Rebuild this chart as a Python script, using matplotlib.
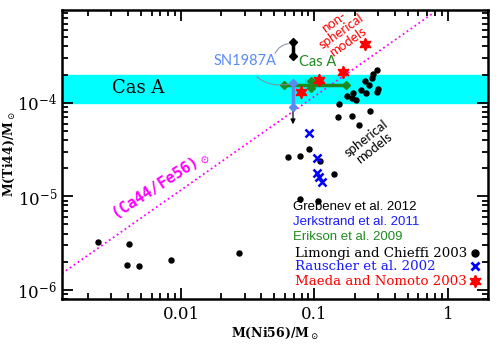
import matplotlib
matplotlib.use("Agg")
import matplotlib.pyplot as plt
from matplotlib.ticker import FixedLocator, FixedFormatter, LogLocator, NullFormatter

plt.rcParams['mathtext.fontset'] = 'dejavuserif'

# Limongi and Chieffi 2003 (spherical models)
lc_ni = [0.0024, 0.0041, 0.0039, 0.0048, 0.0084, 0.0273, 0.063, 0.078, 0.091, 0.11,
         0.14, 0.078, 0.106, 0.151, 0.19, 0.217, 0.26, 0.152, 0.176, 0.192, 0.205,
         0.195, 0.222, 0.242, 0.239, 0.256, 0.268, 0.276, 0.292, 0.30, 0.292]
lc_ti = [3.26e-6, 3.1e-6, 1.85e-6, 1.78e-6, 2.11e-6, 2.47e-6, 2.61e-5, 2.7e-5, 3.2e-5, 2.4e-5,
         1.73e-5, 9.3e-6, 9.0e-6, 6.98e-5, 7.2e-5, 5.78e-5, 8.1e-5, 9.7e-5, 1.19e-4, 1.13e-4, 1.07e-4,
         1.26e-4, 1.37e-4, 1.28e-4, 1.72e-4, 1.55e-4, 1.82e-4, 2.02e-4, 2.23e-4, 1.39e-4, 1.3e-4]

# Rauscher et al. 2002
ra_ni = [0.091, 0.104, 0.104, 0.109, 0.113]
ra_ti = [4.8e-5, 2.55e-5, 1.77e-5, 1.62e-5, 1.43e-5]

# Maeda and Nomoto 2003 (non-spherical models)
mn_ni = [0.239, 0.163, 0.109, 0.079]
mn_ti = [4.3e-4, 2.14e-4, 1.75e-4, 1.31e-4]

# SN1987A: Grebenev 2012 and Jerkstrand 2011
sn87_ni = 0.069
greb_ti = [3.15e-4, 4.48e-4]
jerk_ti = [9.06e-5, 1.61e-4]
jerk_limit = 5.5e-5

# Cas A: Erikson 2009
casa_ni = [0.059, 0.094, 0.172]
casa_ti = [1.55e-4, 1.43e-4, 1.7e-4]

# Cas A band and solar ratio
band = [1e-4, 2e-4]
solar_ratio = 1.17e-3

fig = plt.figure(figsize=(4.98, 3.46), dpi=100)
ax = fig.add_axes([0.1245, 0.136, 0.8555, 0.835])
ax.set_xscale('log')
ax.set_yscale('log')
ax.set_xlim(1.28e-3, 2.0)
ax.set_ylim(8.0e-7, 9.8e-4)

ax.axhspan(band[0], band[1], color='#00ffff', zorder=0)
xl = [1.28e-3, 2.0]
ax.plot(xl, [v * solar_ratio for v in xl], ':', color='#ff00ff', lw=1.3, zorder=1)

# Erikson (green)
green = '#1f8a1f'
ax.plot([casa_ni[0], casa_ni[2]], [casa_ti[0], casa_ti[0]], '-', color=green, lw=2.5, zorder=3)
ax.plot([casa_ni[0], casa_ni[2]], [casa_ti[0], casa_ti[0]], 'D', color=green, ms=4.5, zorder=3)
ax.plot([casa_ni[1], casa_ni[1]], [casa_ti[1], casa_ti[2]], '-D', color=green, lw=2.5, ms=4.5, zorder=3)

# Maeda & Nomoto stars
ax.plot(mn_ni, mn_ti, ls='none', marker=(6, 1, 0), color='red', ms=9, zorder=4)

# Jerkstrand (blue bar) + upper arrow
sncol = '#5a8cf0'
ax.annotate('', xy=(sn87_ni, jerk_limit), xytext=(sn87_ni, jerk_ti[0]),
            arrowprops=dict(arrowstyle='-|>', color='black', lw=0.9, mutation_scale=7), zorder=2)
ax.plot([sn87_ni, sn87_ni], jerk_ti, '-D', color=sncol, lw=2.5, ms=4.5, zorder=5)

# Grebenev (black bar)
ax.plot([sn87_ni, sn87_ni], greb_ti, '-D', color='black', lw=2.5, ms=4.5, zorder=5)

# model points
ax.plot(lc_ni, lc_ti, 'o', color='black', ms=3.6, zorder=4)
ax.plot(ra_ni, ra_ti, 'x', color='#0000ff', ms=6, mew=1.8, zorder=4)

# annotations
ax.annotate('SN1987A', xy=(sn87_ni, 1.61e-4), xycoords='data',
            xytext=(0.43, 0.824), textcoords='axes fraction', ha='center', va='center',
            fontsize=10.5, color=sncol, family='Lato',
            arrowprops=dict(arrowstyle='-', color='#7f8c9c', lw=0.7,
                            connectionstyle='arc3,rad=0.4', shrinkA=6, shrinkB=2))
ax.annotate('', xy=(sn87_ni * 0.97, 4.3e-4), xycoords='data',
            xytext=(0.5, 0.85), textcoords='axes fraction',
            arrowprops=dict(arrowstyle='-', color='#7f8c9c', lw=0.7,
                            connectionstyle='arc3,rad=-0.3', shrinkA=0, shrinkB=2))
ax.annotate('Cas A', xy=(0.086, 1.5e-4), xycoords='data',
            xytext=(0.601, 0.82), textcoords='axes fraction', ha='center', va='center',
            fontsize=10.5, color=green, family='Lato',
            arrowprops=dict(arrowstyle='-', color='#7f9c7f', lw=0.7,
                            connectionstyle='arc3,rad=0.3', shrinkA=6, shrinkB=2))

ax.text(0.178, 0.730, 'Cas A', transform=ax.transAxes, ha='center', va='center',
        fontsize=13, family='DejaVu Serif', color='black')
ax.text(0.655, 0.925, 'non-\nspherical\nmodels', transform=ax.transAxes, ha='center',
        va='center', rotation=35, fontsize=9.5, color='red', family='Lato',
        linespacing=1.0, multialignment='center')
ax.text(0.723, 0.54, 'spherical\nmodels', transform=ax.transAxes, ha='center',
        va='center', rotation=38, fontsize=9.5, color='black', family='Lato',
        linespacing=1.0, multialignment='center')
ax.text(0.230, 0.391, r'(Ca44/Fe56)$_\odot$', transform=ax.transAxes, ha='center',
        va='center', rotation=33, fontsize=11, color='#ff00ff', family='DejaVu Sans Mono',
        fontweight='bold')

# legend as text
leg_x = 0.542
sans = [('Grebenev et al. 2012', 'black', 0.318),
        ('Jerkstrand et al. 2011', '#1a1aff', 0.266),
        ('Erikson et al. 2009', green, 0.215)]
for s, c, y in sans:
    ax.text(leg_x, y, s, transform=ax.transAxes, ha='left', va='center', fontsize=9.5,
            color=c, family='Liberation Sans')
serif = [('Limongi and Chieffi 2003', 'black', 0.159),
         ('Rauscher et al. 2002', '#1a1aff', 0.114),
         ('Maeda and Nomoto 2003', 'red', 0.062)]
for s, c, y in serif:
    ax.text(leg_x + 0.005, y, s, transform=ax.transAxes, ha='left', va='center', fontsize=9.6,
            color=c, family='DejaVu Serif')
ax.plot([0.969], [0.159], 'o', color='black', ms=5, transform=ax.transAxes, clip_on=False)
ax.plot([0.969], [0.114], 'x', color='#0000ff', ms=6, mew=2, transform=ax.transAxes, clip_on=False)
ax.plot([0.969], [0.062], marker=(6, 1, 0), color='red', ms=9, transform=ax.transAxes, clip_on=False)

# axes styling
for sp in ax.spines.values():
    sp.set_linewidth(1.8)
ax.tick_params(which='both', direction='in', top=True, right=True, width=1.3)
ax.tick_params(which='major', length=8)
ax.tick_params(which='minor', length=4)
ax.xaxis.set_major_locator(FixedLocator([0.01, 0.1, 1]))
ax.xaxis.set_major_formatter(FixedFormatter(['0.01', '0.1', '1']))
ax.xaxis.set_minor_locator(LogLocator(base=10, subs=range(2, 10)))
ax.xaxis.set_minor_formatter(NullFormatter())
ax.yaxis.set_major_locator(FixedLocator([1e-6, 1e-5, 1e-4]))
ax.yaxis.set_major_formatter(FixedFormatter([r'$10^{-6}$', r'$10^{-5}$', r'$10^{-4}$']))
ax.yaxis.set_minor_locator(LogLocator(base=10, subs=range(2, 10)))
ax.yaxis.set_minor_formatter(NullFormatter())
for lab in ax.get_xticklabels() + ax.get_yticklabels():
    lab.set_family('DejaVu Serif')
    lab.set_fontsize(12)
ax.tick_params(axis='x', pad=5)

ax.set_xlabel(r'M(Ni56)/M$_\odot$', fontsize=9, family='DejaVu Serif', fontweight='bold',
              labelpad=2)
ax.set_ylabel(r'M(Ti44)/M$_\odot$', fontsize=9, family='DejaVu Serif', fontweight='bold',
              labelpad=0)

fig.savefig('out.png', dpi=100)
